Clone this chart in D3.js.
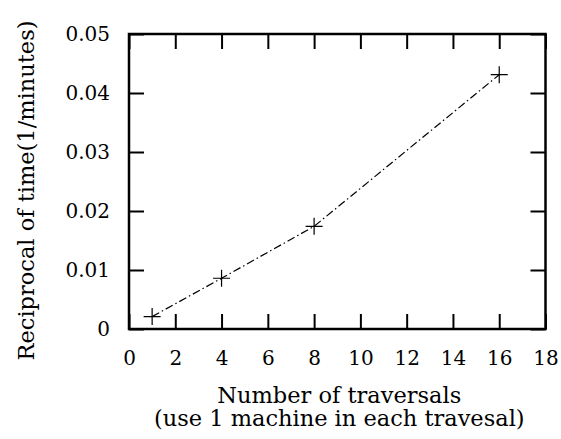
<!DOCTYPE html>
<html lang="en">
<head>
  <meta charset="UTF-8">
  <script src="https://d3js.org/d3.v7.min.js"></script>
  <style>
    body { margin: 0; background: #fff; }
  </style>
</head>
<body>
  <div id="container"></div>
  <script type="text/javascript">
    // data
    const traversals = [1, 4, 8, 16];
    const reciprocal = [0.0021, 0.0086, 0.0174, 0.0431];
    const xTicks = [0, 2, 4, 6, 8, 10, 12, 14, 16, 18];
    const yTicks = [0, 0.01, 0.02, 0.03, 0.04, 0.05];
    const xTitle = ["Number of traversals", "(use 1 machine in each travesal)"];
    const yTitle = "Reciprocal of time(1/minutes)";

    const w = 561
    const h = 439
    const margin = { top: 34, bottom: 110, left: 129, right: 15.5 }
    const font = "DejaVu Serif";
    const fs = 20;      // tick labels
    const titleFs = 22.5;

    const svg = d3.select("#container")
      .append("svg")
      .attr("width", w)
      .attr("height", h)
      .style("display", "block");

    const x = d3.scaleLinear().domain([0, 18]).range([margin.left, w - margin.right]);
    const y = d3.scaleLinear().domain([0, 0.05]).range([h - margin.bottom, margin.top]);

    const tickLen = 15;

    // ticks on all four sides, pointing inward (gnuplot style)
    const axisBottom = d3.axisBottom(x).tickValues(xTicks).tickSizeInner(-tickLen).tickSizeOuter(0).tickPadding(22)
      .tickFormat(d3.format("d"));
    const axisTop = d3.axisTop(x).tickValues(xTicks).tickSizeInner(-tickLen).tickSizeOuter(0).tickFormat("");
    const axisLeft = d3.axisLeft(y).tickValues(yTicks).tickSizeInner(-tickLen).tickSizeOuter(0).tickPadding(19)
      .tickFormat(d => d === 0 ? "0" : d3.format(".2f")(d));
    const axisRight = d3.axisRight(y).tickValues(yTicks).tickSizeInner(-tickLen).tickSizeOuter(0).tickFormat("");

    function style(g) {
      g.attr("font-family", font).attr("font-size", fs);
      g.select(".domain").remove();
      g.selectAll(".tick line").attr("stroke", "#000").attr("stroke-width", 2);
      g.selectAll(".tick text").attr("fill", "#000");
    }

    svg.append("g").attr("transform", "translate(0," + y(0) + ")").call(axisBottom).call(style);
    svg.append("g").attr("transform", "translate(0," + y(0.05) + ")").call(axisTop).call(style);
    svg.append("g").attr("transform", "translate(" + x(0) + ",0)").call(axisLeft).call(style);
    svg.append("g").attr("transform", "translate(" + x(18) + ",0)").call(axisRight).call(style);

    // border
    svg.append("rect")
      .attr("x", x(0))
      .attr("y", y(0.05))
      .attr("width", x(18) - x(0))
      .attr("height", y(0) - y(0.05))
      .attr("fill", "none")
      .attr("stroke", "#000")
      .attr("stroke-width", 2.5);

    const pts = traversals.map((t, i) => [t, reciprocal[i]]);

    svg.append("path")
      .datum(pts)
      .attr("fill", "none")
      .attr("stroke", "#000")
      .attr("stroke-width", 1.2)
      .attr("stroke-dasharray", "8,3,1.5,3")
      .attr("d", d3.line().x(d => x(d[0])).y(d => y(d[1])));

    const m = 8.5;
    svg.append("g")
      .selectAll("path")
      .data(pts)
      .enter()
      .append("path")
      .attr("fill", "none")
      .attr("stroke", "#000")
      .attr("stroke-width", 1.2)
      .attr("d", d => {
        const px = x(d[0]), py = y(d[1]);
        return "M" + (px - m) + "," + py + "H" + (px + m) + "M" + px + "," + (py - m) + "V" + (py + m);
      });

    // axis titles
    svg.append("g")
      .selectAll("text")
      .data(xTitle)
      .enter()
      .append("text")
      .attr("text-anchor", "middle")
      .attr("font-family", font)
      .attr("font-size", titleFs)
      .attr("x", (x(0) + x(18)) / 2 + 2)
      .attr("y", (d, i) => 403 + i * 23)
      .text(d => d);

    svg.append("text")
      .attr("text-anchor", "middle")
      .attr("transform", "translate(34," + ((y(0) + y(0.05)) / 2 + 9) + ") rotate(-90)")
      .attr("font-family", font)
      .attr("font-size", titleFs)
      .text(yTitle);
  </script>
</body>
</html>
